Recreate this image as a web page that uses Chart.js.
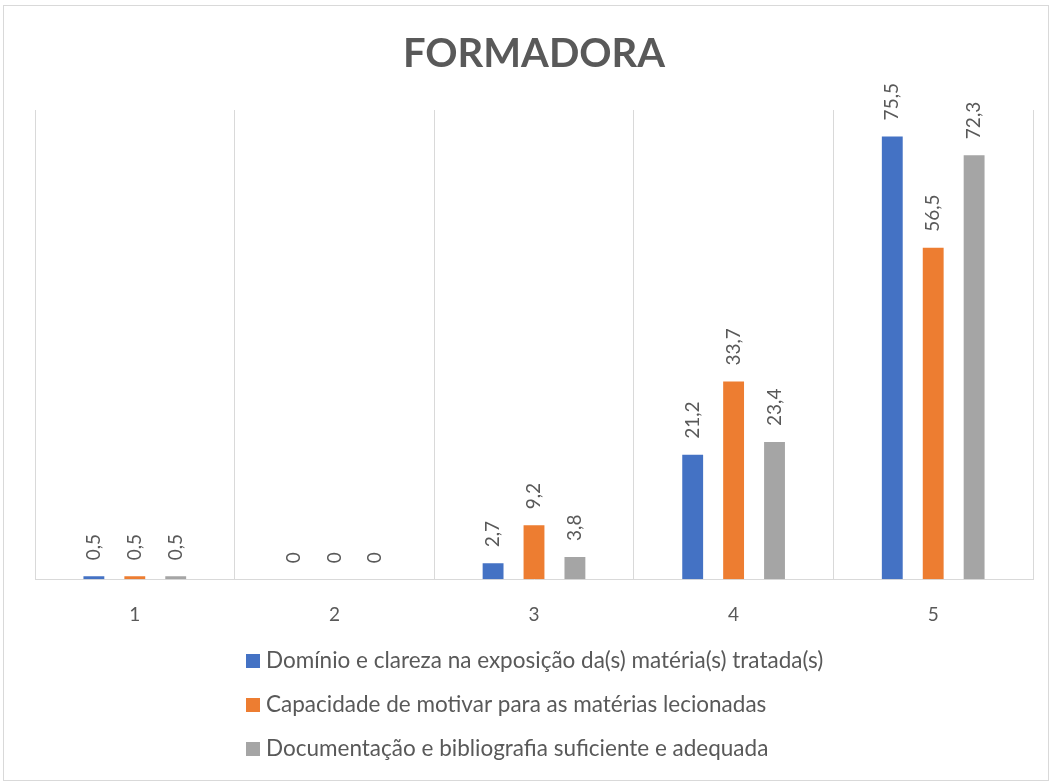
<!DOCTYPE html>
<html>
<head>
<meta charset="utf-8">
<script src="https://cdn.jsdelivr.net/npm/chart.js@4/dist/chart.umd.min.js"></script>
<style>
  html, body { margin: 0; padding: 0; background: #fff; }
  #wrap { position: relative; width: 1052px; height: 783px; }
</style>
</head>
<body>
<div id="wrap"><canvas id="chart" width="1052" height="783"></canvas></div>
<script>
// dados do gráfico
const categories = ["1", "2", "3", "4", "5"];
const seriesNames = [
  "Domínio e clareza na exposição da(s) matéria(s) tratada(s)",
  "Capacidade de motivar para as matérias lecionadas",
  "Documentação e bibliografia suficiente e adequada"
];
const dominio     = [0.5, 0, 2.7, 21.2, 75.5];
const capacidade  = [0.5, 0, 9.2, 33.7, 56.5];
const documentacao = [0.5, 0, 3.8, 23.4, 72.3];

const COLORS = ["#4472C4", "#ED7D31", "#A5A5A5"];
const TEXT = "#595959";
const FONT = "Lato, 'Open Sans', sans-serif";

/* moldura à volta do gráfico */
const borderPlugin = {
  id: "border",
  beforeDraw(chart) {
    const ctx = chart.ctx;
    ctx.save();
    ctx.strokeStyle = "#d9d9d9";
    ctx.lineWidth = 1;
    ctx.strokeRect(3.5, 5.5, 1045, 775);
    ctx.restore();
  }
};

/* rótulos de dados rodados */
const labelsPlugin = {
  id: "barLabels",
  afterDatasetsDraw(chart) {
    const ctx = chart.ctx;
    ctx.save();
    ctx.font = "19px " + FONT;
    ctx.fillStyle = TEXT;
    ctx.textAlign = "left";
    ctx.textBaseline = "middle";
    chart.data.datasets.forEach((ds, i) => {
      chart.getDatasetMeta(i).data.forEach((bar, j) => {
        const txt = String(ds.data[j]).replace(".", ",");
        ctx.save();
        ctx.translate(bar.x, bar.y - 16);
        ctx.rotate(-Math.PI / 2);
        ctx.fillText(txt, 0, 0);
        ctx.restore();
      });
    });
    ctx.restore();
  }
};

/* legenda em lista, alinhada à esquerda */
const legendPlugin = {
  id: "listLegend",
  afterDraw(chart) {
    const ctx = chart.ctx;
    const area = chart.chartArea;
    ctx.save();
    ctx.font = "22.5px " + FONT;
    const maxW = Math.max(...seriesNames.map((n) => ctx.measureText(n).width));
    const box = 14;
    const total = box + 6 + maxW;
    const x0 = Math.round((area.left + area.right) / 2 - total / 2) + 1;
    ctx.textAlign = "left";
    ctx.textBaseline = "middle";
    seriesNames.forEach((name, i) => {
      const y = 661 + i * 44;
      ctx.fillStyle = COLORS[i];
      ctx.fillRect(x0, y - box / 2, box, box);
      ctx.fillStyle = TEXT;
      ctx.fillText(name, x0 + box + 6, y);
    });
    ctx.restore();
  }
};

const datasets = [dominio, capacidade, documentacao].map((d, i) => ({
  label: seriesNames[i],
  data: d,
  backgroundColor: COLORS[i],
  categoryPercentage: 0.615,
  barPercentage: 0.51,
  borderWidth: 0
}));

new Chart(document.getElementById("chart").getContext("2d"), {
  type: "bar",
  data: { labels: categories, datasets },
  options: {
    responsive: false,
    animation: false,
    layout: { padding: { left: 35, right: 19, top: 0, bottom: 133 } },
    plugins: {
      legend: { display: false },
      tooltip: { enabled: false },
      title: {
        display: true,
        text: "FORMADORA",
        color: TEXT,
        font: { family: FONT, size: 40, weight: "bold" },
        padding: { top: 30, bottom: 32 }
      }
    },
    scales: {
      x: {
        grid: { display: true, offset: true, color: "#d9d9d9", drawTicks: false },
        border: { display: true, color: "#d9d9d9" },
        ticks: { color: TEXT, font: { family: FONT, size: 19 }, padding: 24 }
      },
      y: {
        display: false,
        min: 0,
        max: 80
      }
    }
  },
  plugins: [borderPlugin, labelsPlugin, legendPlugin]
});
</script>
</body>
</html>
